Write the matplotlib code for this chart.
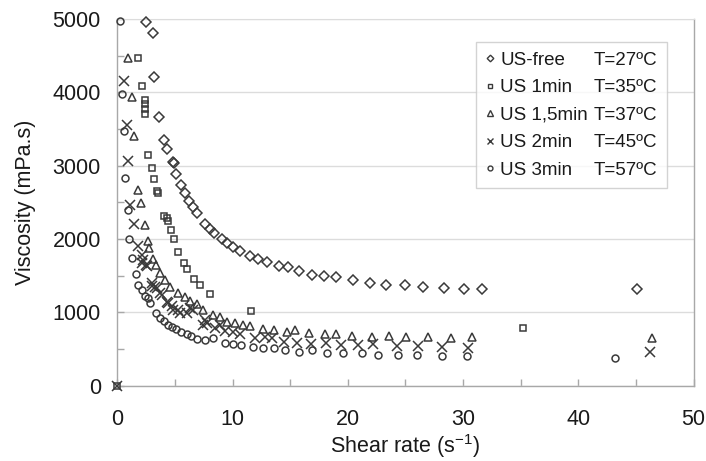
import matplotlib
matplotlib.use("Agg")
import matplotlib.pyplot as plt
from matplotlib.lines import Line2D
from matplotlib.ticker import MultipleLocator

plt.rcParams['font.family'] = ['Liberation Sans', 'DejaVu Sans']

# ---- viscosity vs shear rate, one series per ultrasound treatment ----
free_x = [2.47, 3.06, 3.17, 3.60, 4.06, 4.32, 4.79, 4.88, 5.08, 5.51, 5.86, 6.23, 6.58, 6.88,
          7.60, 8.03, 8.40, 9.05, 9.48, 10.05, 10.63, 11.50, 12.20, 13.00, 14.05, 14.83, 15.78,
          16.91, 17.95, 18.97, 20.42, 21.92, 23.31, 24.96, 26.49, 28.37, 30.10, 31.67, 45.12]
free_y = [4962, 4812, 4213, 3661, 3350, 3224, 3055, 3033, 2887, 2737, 2624, 2524, 2434, 2352,
          2206, 2139, 2080, 2002, 1944, 1898, 1843, 1771, 1726, 1693, 1634, 1614, 1566,
          1512, 1491, 1478, 1444, 1399, 1376, 1376, 1353, 1339, 1321, 1321, 1321]

us1_x = [0, 1.75, 2.10, 2.39, 2.39, 2.39, 2.39, 2.67, 2.97, 3.19, 3.40, 3.54, 4.06, 4.27, 4.36,
         4.67, 4.90, 5.28, 5.77, 6.06, 6.60, 7.12, 8.00, 11.59, 35.17]
us1_y = [0, 4472, 4086, 3895, 3837, 3773, 3705, 3146, 2973, 2815, 2660, 2624, 2315, 2284, 2247,
         2125, 1998, 1821, 1679, 1590, 1453, 1375, 1249, 1026, 794]

us15_x = [0.94, 1.23, 1.46, 1.78, 2.07, 2.41, 2.65, 2.76, 3.11, 3.34, 3.69, 4.12, 4.56, 5.28,
          5.86, 6.29, 6.88, 7.45, 8.32, 8.90, 9.48, 10.20, 10.92, 11.50, 12.66, 13.61, 14.69,
          15.41, 16.62, 18.01, 18.97, 20.40, 22.12, 23.57, 25.04, 26.93, 28.95, 30.80, 46.37]
us15_y = [4472, 3932, 3398, 2670, 2492, 2193, 1975, 1875, 1730, 1648, 1535, 1444, 1352, 1271,
          1208, 1162, 1117, 1035, 967, 936, 876, 854, 824, 817, 770, 763, 735,
          756, 718, 701, 704, 677, 663, 681, 671, 671, 658, 671, 650]

us2_x = [0, 0.56, 0.80, 0.89, 1.09, 1.43, 1.81, 2.10, 2.15, 2.19, 2.47, 2.53, 2.97, 2.97, 3.26,
         3.40, 3.69, 3.84, 4.27, 4.41, 4.70, 4.84, 5.28, 5.43, 6.01, 6.29, 6.58, 7.45, 7.60,
         7.74, 8.46, 8.90, 9.33, 10.05, 10.63, 11.94, 12.80, 13.39, 14.48, 15.56, 16.80,
         18.10, 19.44, 20.92, 22.18, 24.26, 26.11, 28.21, 30.43, 46.22]
us2_y = [0, 4158, 3555, 3069, 2465, 2202, 1900, 1784, 1671, 1716, 1648, 1634, 1399, 1362, 1352,
         1331, 1262, 1239, 1148, 1126, 1090, 1035, 1035, 990, 990, 1058, 1035, 831, 899,
         854, 786, 831, 753, 740, 708, 647, 667, 650, 603, 582, 572,
         579, 558, 558, 565, 541, 541, 535, 513, 467]

us3_x = [0.22, 0.36, 0.56, 0.65, 0.87, 1.00, 1.22, 1.61, 1.81, 2.17, 2.39, 2.62, 2.82, 3.32,
         3.69, 4.08, 4.41, 4.70, 5.08, 5.51, 6.01, 6.42, 6.94, 7.64, 8.29, 9.33, 10.03, 10.76,
         11.79, 12.66, 13.59, 14.54, 15.73, 16.86, 18.16, 19.60, 21.20, 22.64, 24.32, 26.02,
         28.14, 30.31, 43.19]
us3_y = [4975, 3977, 3477, 2837, 2397, 2005, 1739, 1525, 1369, 1308, 1226, 1194, 1124, 987,
         922, 878, 831, 804, 776, 735, 701, 674, 640, 620, 654, 586, 568, 552,
         536, 513, 513, 490, 467, 490, 454, 445, 445, 422, 422, 422,
         409, 409, 385]

names = ["US-free", "US 1min", "US 1,5min", "US 2min", "US 3min"]
temps = ["T=27ºC", "T=35ºC", "T=37ºC", "T=45ºC", "T=57ºC"]
markers = ["D", "s", "^", "x", "o"]
sizes = [4.8, 5.0, 5.8, 6.6, 5.0]

series = [(free_x, free_y), (us1_x, us1_y), (us15_x, us15_y), (us2_x, us2_y), (us3_x, us3_y)]

ink = "#3a3a3a"
grey = "#a8a8a8"
fs = 15.5

fig = plt.figure(figsize=(7.06, 4.61), dpi=100)
ax = fig.add_axes([0.1664, 0.163, 0.8159, 0.796])

for (xs, ys), m, ms in zip(series, markers, sizes):
    ax.plot(xs, ys, linestyle="none", marker=m, markersize=ms, markerfacecolor="none",
            markeredgecolor=ink, markeredgewidth=1.1, color=ink, clip_on=False, zorder=3)

ax.set_xlim(0, 50)
ax.set_ylim(0, 5000)
ax.xaxis.set_major_locator(MultipleLocator(10))
ax.xaxis.set_minor_locator(MultipleLocator(5))
ax.yaxis.set_major_locator(MultipleLocator(1000))
ax.yaxis.set_minor_locator(MultipleLocator(500))
ax.grid(axis="y", which="major", color="#dcdcdc", linewidth=1.0)
ax.set_axisbelow(True)

for side in ["left", "bottom", "right"]:
    ax.spines[side].set_color(grey)
    ax.spines[side].set_linewidth(1.0)
ax.spines["top"].set_color("#dcdcdc")

ax.tick_params(axis="both", which="both", direction="in", color=grey, length=5, width=1.0,
               labelsize=fs, labelcolor="#1a1a1a")
ax.tick_params(axis="x", which="both", pad=17)
ax.tick_params(axis="y", which="both", pad=12)

ax.set_xlabel(r"Shear rate (s$^{\mathregular{-1}}$)", fontsize=fs, color="#1a1a1a", labelpad=1)
ax.set_ylabel("Viscosity (mPa.s)", fontsize=fs, color="#1a1a1a", labelpad=12)

# legend: marker + treatment name in the first column, temperature in the second
handles = [Line2D([], [], linestyle="none", marker=m, markersize=s * 0.7, markerfacecolor="none",
                  markeredgecolor=ink, markeredgewidth=1.0) for m, s in zip(markers, sizes)]
blank = [Line2D([], [], linestyle="none") for _ in temps]
leg = ax.legend(handles + blank, names + temps, ncol=2, loc="upper left",
                bbox_to_anchor=(0.622, 0.937), fontsize=13.5, frameon=True, fancybox=False,
                edgecolor="#c8c8c8", handlelength=0.5, handletextpad=0.3, columnspacing=-0.5,
                labelspacing=0.56, borderpad=0.5, borderaxespad=0)
leg.get_frame().set_linewidth(1.0)
for t in leg.get_texts():
    t.set_color("#1a1a1a")

fig.savefig("out.png", dpi=100)
